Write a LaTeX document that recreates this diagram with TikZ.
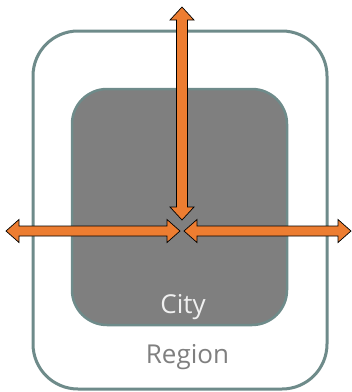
\documentclass[tikz,border=0pt]{standalone}
\usepackage{fontspec}
\setmainfont{Open Sans}
\definecolor{frame}{HTML}{6E8B8A}
\definecolor{cityfill}{HTML}{7F7F7F}
\definecolor{arroworange}{HTML}{ED7D31}
\begin{document}
\begin{tikzpicture}[x=1pt,y=-1pt,
  arrowshape/.style={fill=arroworange,draw=black,line width=0.7pt,line join=miter},
  lbl/.style={anchor=base,inner sep=0pt,font=\fontsize{26}{30}\selectfont}]
\useasboundingbox (0,0) rectangle (352,392);
% region
\draw[frame,line width=3pt,rounded corners=45pt] (33,31) rectangle (327,389);
% city
\draw[draw=frame,fill=cityfill,line width=2.5pt,rounded corners=35pt] (72,89) rectangle (287,325);
% arrows
\draw[arrowshape] (182,7) -- (194,20) -- (187.5,20) -- (187.5,207) -- (194,207) -- (182,220)
  -- (170,207) -- (176.5,207) -- (176.5,20) -- (170,20) -- cycle;
\draw[arrowshape] (6,231) -- (19,219.5) -- (19,226) -- (167,226) -- (167,219.5) -- (180,231)
  -- (167,242.5) -- (167,236) -- (19,236) -- (19,242.5) -- cycle;
\draw[arrowshape] (184,231) -- (197,219.5) -- (197,226) -- (338,226) -- (338,219.5) -- (351,231)
  -- (338,242.5) -- (338,236) -- (197,236) -- (197,242.5) -- cycle;
% labels
\node[lbl,text=white!94!black] (city) at (183,313) {City};
\node[lbl,text=cityfill] (region) at (187.5,363) {Region};
\end{tikzpicture}
\end{document}
